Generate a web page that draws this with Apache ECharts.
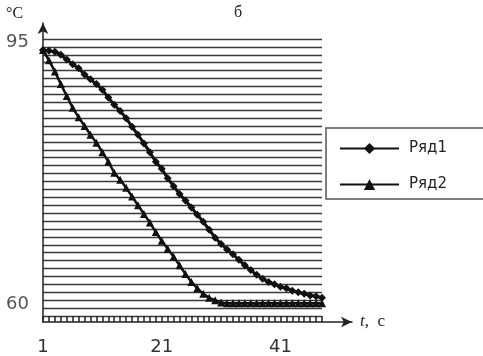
<!DOCTYPE html>
<html><head><meta charset="utf-8">
<script src="https://cdn.jsdelivr.net/npm/echarts@6/dist/echarts.min.js"></script>
<style>html,body{margin:0;padding:0;background:#fff}#c{width:483px;height:356px}</style>
</head><body><div id="c"></div>
<script>
const categories = [];
for (let i = 1; i <= 48; i++) categories.push(String(i));
const seriesNames = ['Ряд1', 'Ряд2'];
const ryad1 = [93.6,93.5,93.4,93.0,92.4,91.8,91.3,90.5,89.9,89.3,88.6,87.6,86.7,85.9,85.0,83.9,82.9,81.8,80.7,79.5,78.6,77.4,76.4,75.4,74.6,73.7,72.8,71.9,70.9,69.9,69.1,68.4,67.8,67.1,66.4,65.8,65.2,64.7,64.3,64.0,63.7,63.5,63.2,63.0,62.8,62.6,62.5,62.3];
const ryad2 = [93.6,92.3,90.9,89.3,87.8,86.3,85.1,84.0,82.9,81.9,80.7,79.5,78.1,77.2,76.2,75.1,74.0,72.9,71.8,70.6,69.5,68.5,67.5,66.4,65.3,64.3,63.5,62.8,62.3,62.0,61.7,61.6,61.6,61.6,61.6,61.6,61.6,61.6,61.6,61.6,61.6,61.6,61.6,61.6,61.6,61.6,61.6,61.6];
const yLabels = [60, 95];
const yMin = 60, yMax = 95;

const chart = echarts.init(document.getElementById('c'));
chart.setOption({
  animation: false,
  title: [
    {text: 'б', left: 229, top: 0, textStyle: {fontFamily: 'Liberation Serif', fontSize: 16, fontWeight: 'normal', color: '#222'}},
    {text: '°C', left: 1, top: 1, textStyle: {fontFamily: 'Liberation Serif', fontSize: 16, fontWeight: 'normal', color: '#222'}}
  ],
  legend: {
    orient: 'vertical', left: 326, top: 128,
    padding: [13, 60, 7, 13],
    borderColor: '#555', borderWidth: 1.5,
    itemWidth: 59, itemHeight: 14, itemGap: 21,
    textStyle: {fontFamily: 'DejaVu Sans', fontSize: 15, color: '#222', padding: [0, 0, 0, 5]},
    data: seriesNames
  },
  grid: [
    {left: 43, right: 161, top: 39, bottom: 34},
    {left: 43, right: 131, top: 23, bottom: 34}
  ],
  xAxis: [
    {
      gridIndex: 0, type: 'category', data: categories, boundaryGap: false,
      axisLine: {show: false},
      axisTick: {show: true, interval: 0, length: 6, inside: false, lineStyle: {color: '#222', width: 1.5}},
      axisLabel: {interval: 19, margin: 22, fontFamily: 'DejaVu Sans', fontSize: 18, color: '#333'},
      splitLine: {show: false}
    },
    {
      gridIndex: 1, type: 'value', min: 0, max: 1,
      axisLine: {show: true, symbol: ['none', 'arrow'], symbolSize: [8, 11], lineStyle: {color: '#222', width: 1.5}},
      axisTick: {show: false}, axisLabel: {show: false}, splitLine: {show: false},
      name: '{i|t},  c', nameLocation: 'end', nameGap: 8,
      nameTextStyle: {fontFamily: 'Liberation Serif', fontSize: 17, color: '#222',
        rich: {i: {fontFamily: 'Liberation Serif', fontStyle: 'italic', fontSize: 17, color: '#222'}}}
    }
  ],
  yAxis: [
    {
      gridIndex: 0, type: 'value', min: yMin, max: yMax, interval: 1,
      axisLine: {show: false}, axisTick: {show: false},
      axisLabel: {
        margin: 14, fontFamily: 'DejaVu Sans', fontSize: 18, color: '#555',
        formatter: v => (v === yLabels[1] ? '{h|' + v + '}' : (v === yLabels[0] ? '{l|' + v + '}' : '')),
        rich: {
          l: {fontFamily: 'DejaVu Sans', fontSize: 18, color: '#555', padding: [0, 0, 24, 0]},
          h: {fontFamily: 'DejaVu Sans', fontSize: 18, color: '#555', padding: [6, 0, 0, 0]}
        }
      },
      splitLine: {show: true, lineStyle: {color: '#3a3a3a', width: 1.3}}
    },
    {
      gridIndex: 1, type: 'value', min: 0, max: 1,
      axisLine: {show: true, symbol: ['none', 'arrow'], symbolSize: [8, 11], lineStyle: {color: '#222', width: 1.5}},
      axisTick: {show: false}, axisLabel: {show: false}, splitLine: {show: false}
    }
  ],
  series: [
    {
      name: seriesNames[0], type: 'line', xAxisIndex: 0, yAxisIndex: 0, data: ryad1,
      symbol: 'diamond', symbolSize: 8, showAllSymbol: true,
      lineStyle: {color: '#111', width: 3}, itemStyle: {color: '#111'}
    },
    {
      name: seriesNames[1], type: 'line', xAxisIndex: 0, yAxisIndex: 0, data: ryad2,
      symbol: 'triangle', symbolSize: 8, showAllSymbol: true,
      lineStyle: {color: '#111', width: 2.5}, itemStyle: {color: '#111'}
    }
  ]
});
</script></body></html>
